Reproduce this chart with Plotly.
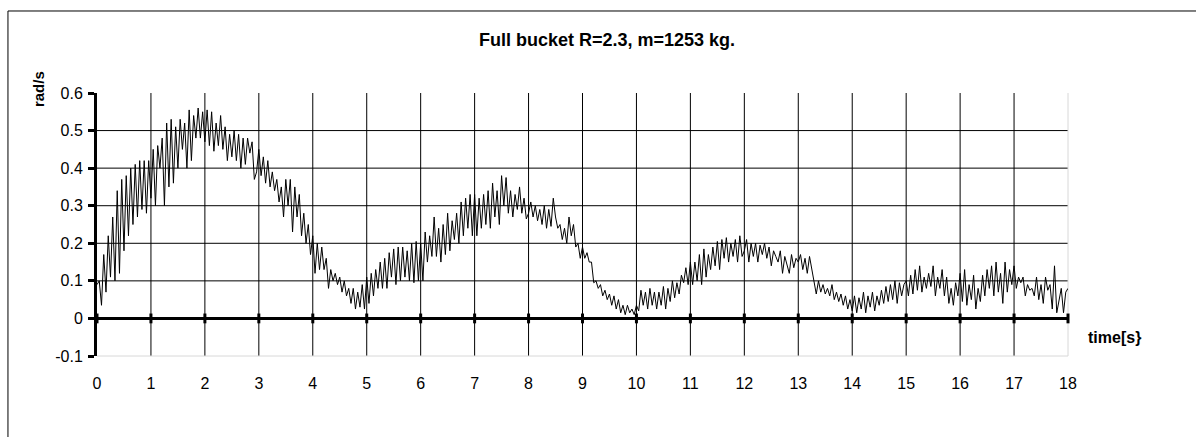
import plotly.graph_objects as go

# ---- data ----
samples_per_second = 24
omega = [
    # 0-1 s
    0.09, 0.10, 0.035, 0.17, 0.07, 0.22, 0.11, 0.27, 0.10, 0.34, 0.12, 0.37,
    0.18, 0.38, 0.22, 0.40, 0.25, 0.41, 0.27, 0.42, 0.29, 0.42, 0.28, 0.42,
    # 1-2 s
    0.32, 0.45, 0.30, 0.46, 0.40, 0.48, 0.30, 0.52, 0.35, 0.53, 0.36, 0.51,
    0.40, 0.53, 0.45, 0.52, 0.40, 0.555, 0.42, 0.54, 0.48, 0.56, 0.48, 0.55,
    # 2-3 s
    0.47, 0.555, 0.46, 0.55, 0.445, 0.52, 0.46, 0.54, 0.45, 0.51, 0.42, 0.49,
    0.43, 0.50, 0.42, 0.49, 0.40, 0.48, 0.41, 0.48, 0.44, 0.47, 0.37, 0.39,
    # 3-4 s
    0.45, 0.38, 0.43, 0.36, 0.42, 0.35, 0.39, 0.34, 0.37, 0.31, 0.35, 0.27,
    0.37, 0.30, 0.37, 0.23, 0.35, 0.27, 0.33, 0.22, 0.28, 0.20, 0.25, 0.17,
    # 4-5 s
    0.22, 0.12, 0.20, 0.13, 0.19, 0.13, 0.16, 0.08, 0.13, 0.10, 0.12, 0.09,
    0.11, 0.07, 0.10, 0.06, 0.08, 0.04, 0.08, 0.025, 0.07, 0.03, 0.09, 0.025,
    # 5-6 s
    0.11, 0.04, 0.12, 0.06, 0.13, 0.08, 0.15, 0.08, 0.16, 0.08, 0.175, 0.11,
    0.185, 0.09, 0.19, 0.10, 0.19, 0.11, 0.18, 0.10, 0.20, 0.095, 0.205, 0.10,
    # 6-7 s
    0.20, 0.10, 0.23, 0.15, 0.22, 0.165, 0.27, 0.165, 0.24, 0.15, 0.25, 0.17,
    0.28, 0.18, 0.26, 0.21, 0.28, 0.20, 0.31, 0.22, 0.32, 0.24, 0.33, 0.22,
    # 7-8 s
    0.33, 0.22, 0.32, 0.24, 0.33, 0.25, 0.34, 0.24, 0.36, 0.27, 0.34, 0.25,
    0.38, 0.30, 0.375, 0.28, 0.34, 0.27, 0.33, 0.29, 0.35, 0.28, 0.32, 0.265,
    # 8-9 s
    0.28, 0.31, 0.27, 0.30, 0.26, 0.29, 0.25, 0.30, 0.24, 0.29, 0.245, 0.32,
    0.27, 0.24, 0.25, 0.21, 0.24, 0.20, 0.27, 0.22, 0.25, 0.19, 0.20, 0.16,
    # 9-10 s
    0.19, 0.16, 0.175, 0.15, 0.15, 0.095, 0.10, 0.08, 0.09, 0.06, 0.075, 0.05,
    0.065, 0.035, 0.06, 0.025, 0.05, 0.015, 0.035, 0.01, 0.035, 0.015, 0.025, 0.01,
    # 10-11 s
    0.035, 0.02, 0.075, 0.035, 0.07, 0.025, 0.08, 0.035, 0.07, 0.025, 0.07, 0.035,
    0.085, 0.025, 0.08, 0.045, 0.10, 0.055, 0.095, 0.065, 0.115, 0.095, 0.135, 0.09,
    # 11-12 s
    0.15, 0.09, 0.15, 0.10, 0.17, 0.09, 0.185, 0.11, 0.17, 0.13, 0.19, 0.14,
    0.205, 0.13, 0.21, 0.16, 0.215, 0.15, 0.20, 0.165, 0.21, 0.15, 0.22, 0.165,
    # 12-13 s
    0.18, 0.21, 0.15, 0.20, 0.165, 0.20, 0.15, 0.195, 0.17, 0.20, 0.16, 0.19,
    0.14, 0.18, 0.165, 0.15, 0.18, 0.12, 0.165, 0.14, 0.12, 0.17, 0.135, 0.16,
    # 13-14 s
    0.15, 0.17, 0.13, 0.16, 0.12, 0.165, 0.13, 0.095, 0.065, 0.10, 0.07, 0.09,
    0.065, 0.08, 0.06, 0.09, 0.05, 0.07, 0.045, 0.065, 0.035, 0.06, 0.025, 0.05,
    # 14-15 s
    0.02, 0.06, 0.015, 0.055, 0.025, 0.07, 0.015, 0.06, 0.03, 0.07, 0.02, 0.06,
    0.035, 0.075, 0.04, 0.085, 0.045, 0.09, 0.05, 0.10, 0.04, 0.095, 0.06, 0.09,
    # 15-16 s
    0.10, 0.06, 0.115, 0.065, 0.13, 0.075, 0.14, 0.07, 0.11, 0.08, 0.12, 0.085,
    0.14, 0.06, 0.11, 0.08, 0.13, 0.06, 0.11, 0.04, 0.08, 0.035, 0.095, 0.06,
    # 16-17 s
    0.12, 0.045, 0.13, 0.035, 0.09, 0.05, 0.115, 0.025, 0.08, 0.045, 0.115, 0.06,
    0.13, 0.08, 0.14, 0.06, 0.15, 0.07, 0.12, 0.04, 0.15, 0.07, 0.13, 0.09,
    # 17-18 s
    0.14, 0.08, 0.11, 0.095, 0.11, 0.06, 0.09, 0.075, 0.08, 0.06, 0.11, 0.05,
    0.09, 0.04, 0.11, 0.075, 0.09, 0.025, 0.14, 0.015, 0.045, 0.08, 0.015, 0.07,
    # 18 s
    0.08,
]
time = [i / samples_per_second for i in range(len(omega))]

x_ticks = list(range(0, 19))
y_ticks = [-0.1, 0, 0.1, 0.2, 0.3, 0.4, 0.5, 0.6]
y_tick_labels = ["-0.1", "0", "0.1", "0.2", "0.3", "0.4", "0.5", "0.6"]
y_grid = [0.1, 0.2, 0.3, 0.4, 0.5]
x_grid = list(range(1, 18))

title_text = "Full bucket R=2.3, m=1253 kg."
y_title = "rad/s"
x_title = "time[s}"

FONT = "Liberation Sans, Arial, sans-serif"

fig = go.Figure()

# main signal
fig.add_trace(go.Scatter(
    x=time, y=omega, mode="lines",
    line=dict(color="black", width=1),
    hoverinfo="skip", showlegend=False,
))

# tick dots on the x axis (at y = 0)
fig.add_trace(go.Scatter(
    x=x_ticks, y=[0] * len(x_ticks), mode="markers",
    marker=dict(symbol="line-ns", size=7, line=dict(color="black", width=3)),
    hoverinfo="skip", showlegend=False, cliponaxis=False,
))

shapes = []
for g in y_grid:
    shapes.append(dict(type="line", xref="paper", yref="y", x0=0, x1=1, y0=g, y1=g,
                       line=dict(color="black", width=1), layer="below"))
for g in x_grid:
    shapes.append(dict(type="line", xref="x", yref="paper", x0=g, x1=g, y0=0, y1=1,
                       line=dict(color="black", width=1), layer="below"))
# faint plot-area border (right and bottom)
shapes.append(dict(type="line", xref="paper", yref="paper", x0=1, x1=1, y0=0, y1=1,
                   line=dict(color="#d8d8d8", width=1), layer="below"))
shapes.append(dict(type="line", xref="paper", yref="paper", x0=0, x1=1, y0=0, y1=0,
                   line=dict(color="#d8d8d8", width=1), layer="below"))
# outer chart border (left and top visible, right/bottom fall outside the picture)
shapes.append(dict(type="rect", xref="paper", yref="paper",
                   x0=-0.0917, x1=1.2, y0=-0.5, y1=1.3118,
                   line=dict(color="black", width=1), fillcolor="rgba(0,0,0,0)"))

fig.update_layout(
    width=1196, height=437,
    margin=dict(l=97, r=128, t=93, b=81, pad=0),
    paper_bgcolor="white", plot_bgcolor="white",
    font=dict(family=FONT, color="black", size=16),
    shapes=shapes,
    showlegend=False,
    annotations=[
        dict(text=f"<b>{title_text}</b>", xref="paper", yref="paper",
             x=0.525, y=1.2015, xanchor="center", yanchor="middle",
             showarrow=False, font=dict(size=18, family=FONT, color="black")),
        dict(text=f"<b>{y_title}</b>", xref="paper", yref="paper",
             x=-0.0607, y=1.0152, xanchor="center", yanchor="middle", textangle=-90,
             showarrow=False, font=dict(size=15, family=FONT, color="black")),
        dict(text=f"<b>{x_title}</b>", xref="paper", yref="paper",
             x=1.0185, y=0.072, xanchor="left", yanchor="middle",
             showarrow=False, font=dict(size=16, family=FONT, color="black")),
    ],
)

fig.update_xaxes(
    range=[0, 18], tickvals=x_ticks, ticktext=[str(v) for v in x_ticks],
    showgrid=False, zeroline=False, showline=False,
    ticks="", ticklabelstandoff=16,
    tickfont=dict(size=16, family=FONT, color="black"),
    fixedrange=True,
)
fig.update_yaxes(
    range=[-0.1, 0.6], tickvals=y_ticks, ticktext=y_tick_labels,
    showgrid=False,
    zeroline=True, zerolinecolor="black", zerolinewidth=3,
    showline=True, linecolor="black", linewidth=3,
    ticks="outside", ticklen=6, tickwidth=3, tickcolor="black",
    ticklabelstandoff=2,
    tickfont=dict(size=16, family=FONT, color="black"),
    fixedrange=True,
)

fig.write_html("out.html", config={"displayModeBar": False, "staticPlot": True})

# remove the browser's default page margin so the figure sits at (0, 0)
with open("out.html", "r", encoding="utf-8") as f:
    html = f.read()
html = html.replace("<body>", '<body style="margin:0;padding:0;">', 1)
with open("out.html", "w", encoding="utf-8") as f:
    f.write(html)
